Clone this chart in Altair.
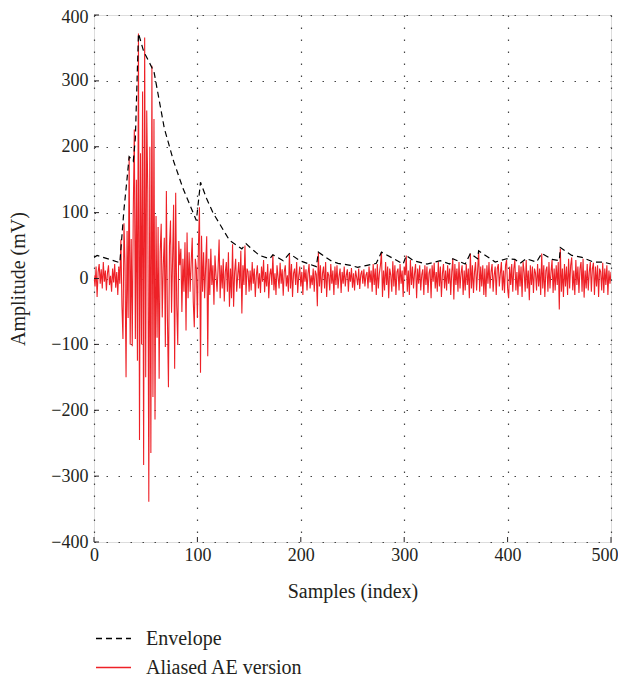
import altair as alt
import pandas as pd

# ---------------- data ----------------
x_ticks = [0, 100, 200, 300, 400, 500]
y_ticks = [-400, -300, -200, -100, 0, 100, 200, 300, 400]

# red "Aliased AE version" samples 0..500
red_values = [
    5, -12, 18, -28, 10, 22, -8, 14, -15, 25,
    -5, 12, -18, 8, 20, -10, 4, -20, 15, -6,
    22, -14, 10, -25, 18, -8, 59, -40, -92, 84,
    20, -150, 72, -60, 185, -100, 60, -103, 105, 226,
    -92, 150, -125, 372, -245, 190, -100, 284, -283, 366,
    -150, 255, 133, -339, 200, -265, 323, -180, 242, -214,
    95, -90, 78, -152, 40, 83, -59, 20, 62, -104,
    133, -60, -165, 50, 88, -52, 30, 112, -137, 130,
    -40, -101, 57, 20, 45, -51, 30, -20, 55, -79,
    70, -30, 40, -20, 25, 62, -35, -74, 30, 15,
    -60, 50, 108, -143, 65, -20, 40, -30, 20, 64,
    -118, 30, -25, 45, -10, 20, -40, 35, 5, -20,
    15, 59, -30, 20, -15, 30, -35, 10, 25, -20,
    40, -43, 15, -30, 52, -43, 10, 30, -20, 5,
    25, -15, 42, -53, 20, -10, 50, -25, 15, 10,
    -20, 12, -18, 25, -8, 15, -28, 5, 20, -15,
    8, -22, 18, -5, 28, -21, 10, -12, 22, -30,
    6, 15, -10, 36, -18, 8, -25, 20, 2, -15,
    24, -8, 14, -26, 10, 20, -12, 5, -20, 38,
    -15, 22, -28, 8, 15, -10, 25, -22, 4, 18,
    -12, 10, -25, 20, -5, 14, -18, 8, 22, -15,
    5, -10, 15, -20, 12, 6, -42, 40, -12, 20,
    -22, 8, 18, -15, 25, -28, 10, 5, -18, 22,
    -8, 12, -25, 18, -10, 20, -15, 4, 15, -22,
    10, -8, 18, -12, 5, 14, -20, 10, -5, 16,
    -14, 8, -18, 12, 2, -10, 15, -16, 6, 12,
    -8, 14, -12, 5, 10, -15, 18, -6, 12, -20,
    22, -10, 15, -25, 22, -15, 8, 20, 40, -28,
    12, -18, 25, -10, 18, -30, 15, 5, -20, 26,
    -12, 20, -25, 10, 15, -18, 22, -8, 12, -28,
    18, 5, 35, -20, 12, -25, 28, -10, 18, -15,
    8, 22, -30, 15, -8, 20, -18, 6, 14, -25,
    20, -10, 18, -22, 8, 15, -30, 20, -5, 24,
    -15, 10, -20, 25, -12, 18, -28, 8, 22, -15,
    12, -18, 20, -8, 15, -25, 10, 30, -32, 22,
    -10, 15, -20, 25, -15, 8, 20, -25, 12, -18,
    22, -10, 15, -30, 38, -15, 20, -22, 10, 25,
    -18, 12, 42, -20, 18, -12, 20, -25, 15, -28,
    20, -8, 25, -15, 10, 22, -20, 5, 18, -25,
    15, 22, -12, 8, 25, -18, 12, -22, 20, 28,
    -15, -30, 18, -10, 22, -20, 15, 28, -18, 10,
    -25, 20, -12, 18, -28, 25, 10, -20, 28, -15,
    12, -33, 20, -10, 18, -22, 15, 8, -18, 22,
    -12, 15, -25, 38, -15, 20, -28, 12, 18, -20,
    25, -15, 10, 28, -22, 15, -18, 20, -10, 25,
    -47, 45, -20, 15, -28, 22, -12, 18, -25, 30,
    -15, 20, 32, -18, 12, -25, 28, -10, 18, -22,
    15, 25, -20, 30, -29, 12, -15, 22, -18, 10,
    25, -20, 15, 24, -25, 18, -12, 20, -28, 15,
    10, -18, 24, -22, 15, -10, 20, -25, 12, -8,
    10,
]

# black dashed "Envelope" (knots)
env_x = [0, 3, 25, 29, 32, 34, 38, 40, 43, 48,
         58, 68, 77, 86, 99, 103, 109, 115, 131, 143,
         147, 151, 160, 170, 173, 183, 189, 199, 208, 215,
         217, 230, 236, 248, 255, 264, 273, 278, 291, 299,
         302, 309, 322, 335, 344, 347, 359, 364, 371, 372,
         388, 399, 407, 412, 418, 428, 433, 443, 450, 451,
         462, 472, 483, 492, 500]
env_y = [32, 35, 24, 105, 152, 185, 178, 213, 372, 345,
         314, 228, 178, 137, 88, 146, 121, 100, 58, 45,
         53, 47, 35, 30, 36, 27, 38, 27, 22, 18,
         40, 26, 23, 20, 17, 20, 23, 40, 29, 22,
         35, 27, 22, 27, 22, 30, 22, 38, 30, 42,
         25, 30, 29, 23, 30, 25, 38, 29, 27, 47,
         35, 32, 25, 25, 22]

series_names = ["Envelope", "Aliased AE version"]
series_colors = ["#000000", "#ee2127"]

# ---------------- frames ----------------
red_df = pd.DataFrame({"sample": list(range(len(red_values))), "amp": red_values,
                       "series": series_names[1]})
env_df = pd.DataFrame({"sample": env_x, "amp": env_y, "series": series_names[0]})
xt_df = pd.DataFrame({"v": x_ticks})
yt_df = pd.DataFrame({"v": y_ticks})

W, H = 517, 527
FONT = "Liberation Serif"
INK = "#231f20"

xscale = alt.Scale(domain=[0, 500], nice=False, zero=False)
yscale = alt.Scale(domain=[-400, 400], nice=False, zero=False)

legend = alt.Legend(
    title=None, orient="none", legendX=1, legendY=605,
    symbolType="stroke", symbolSize=1225, symbolStrokeWidth=1.3,
    labelFont=FONT, labelFontSize=20, labelColor=INK,
    labelOffset=14, rowPadding=-8,
)

common_axis = dict(
    format="d", labelFont=FONT, labelFontSize=18, labelColor=INK,
    titleFont=FONT, titleFontSize=20, titleFontWeight="normal", titleColor=INK,
    ticks=False, domain=False, grid=True, labelFlush=False,
    gridDash=[1.5, 10.5], gridColor="#444444", gridWidth=1.2,
)
xaxis = alt.Axis(values=x_ticks, title="Samples (index)", titlePadding=17,
                 labelPadding=4,
                 labelAlign={"expr": "datum.value == 500 ? 'right' : 'center'"},
                 labelOffset={"expr": "datum.value == 500 ? 7 : 0"},
                 **common_axis)
yaxis = alt.Axis(values=y_ticks, title="Amplitude (mV)", titlePadding=22,
                 labelPadding=6,
                 labelOffset={"expr": "datum.value == 400 ? 2 : 0"},
                 **common_axis)

color = alt.Color("series:N", scale=alt.Scale(domain=series_names, range=series_colors),
                  legend=legend)
dash = alt.StrokeDash("series:N", scale=alt.Scale(domain=series_names, range=[[6, 4], [1, 0]]),
                      legend=legend)

red_line = alt.Chart(red_df).mark_line(strokeWidth=1.1, clip=True).encode(
    x=alt.X("sample:Q", scale=xscale, axis=xaxis),
    y=alt.Y("amp:Q", scale=yscale, axis=yaxis),
    color=color, strokeDash=dash,
)
env_line = alt.Chart(env_df).mark_line(strokeWidth=1.2, clip=True).encode(
    x=alt.X("sample:Q", scale=xscale),
    y=alt.Y("amp:Q", scale=yscale),
    color=color, strokeDash=dash,
)
xticks_in = alt.Chart(xt_df).mark_rule(color=INK, strokeWidth=1).encode(
    x=alt.X("v:Q", scale=xscale), y=alt.value(H), y2=alt.value(H - 5))
yticks_in = alt.Chart(yt_df).mark_rule(color=INK, strokeWidth=1).encode(
    y=alt.Y("v:Q", scale=yscale), x=alt.value(0), x2=alt.value(5))

chart = alt.layer(red_line, env_line, xticks_in, yticks_in).properties(
    width=W, height=H,
    autosize=alt.AutoSizeParams(type="none"),
    padding={"left": 86, "top": 7, "right": 7, "bottom": 138},
).configure_view(
    stroke=INK, strokeWidth=1.3
).configure(background="white")

chart.save("out.html", embed_options={"renderer": "svg", "actions": False})
